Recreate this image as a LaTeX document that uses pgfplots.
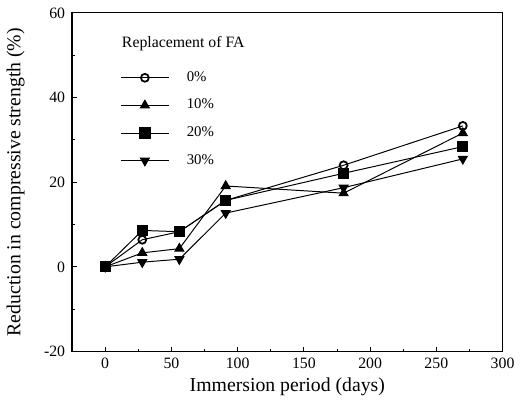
\documentclass[border=0pt]{standalone}
\usepackage{pgfplots}
\pgfplotsset{compat=1.18}
\usepackage{fontspec}
\setmainfont{Liberation Serif}
\begin{document}
\begin{tikzpicture}
\begin{axis}[
  at={(0,0)}, anchor=south west,
  scale only axis,
  width=218pt, height=171.5pt,
  xmin=-25, xmax=300, ymin=-20, ymax=60,
  xtick={0,50,...,300}, ytick={-20,0,...,60},
  minor x tick num=1, minor y tick num=1,
  tick align=inside, tick pos=left,
  major tick length=2.5pt, minor tick length=1.5pt,
  axis line style={line width=0.6pt},
  every tick/.style={black, line width=0.5pt},
  /pgf/number format/assume math mode=true,
  ticklabel style={font=\fontsize{8}{9}\selectfont},
  xlabel={Immersion period (days)},
  ylabel={Reduction in compressive strength (\%)},
  label style={font=\fontsize{10}{12}\selectfont},
  xlabel style={at={(axis description cs:0.5,-0.105)}, anchor=center},
  ylabel style={at={(axis description cs:-0.131,0.5)}, anchor=center},
  legend cell align=left,
  legend style={draw=none, fill=none, at={(axis description cs:0.112,0.84)}, anchor=north west,
    inner sep=0pt, font=\fontsize{7.5}{9}\selectfont, row sep=3.5pt, column sep=7pt},
  legend image code/.code={\draw[mark repeat=2,mark phase=2] plot coordinates {(0pt,0pt)(12pt,0pt)(24pt,0pt)};},
  every axis plot/.append style={black, line width=0.5pt},
]
\addplot[mark=o, mark size=2pt, mark options={fill=white, line width=0.9pt}] coordinates {
 (0,0) (28,6.4) (56,8.3) (91,15.7) (180,24.0) (270,33.3)};
\addlegendentry{0\%}
\addplot[mark=triangle*, mark size=2.6pt] coordinates {
 (0,0) (28,3.3) (56,4.3) (91,19.1) (180,17.4) (270,31.6)};
\addlegendentry{10\%}
\addplot[mark=square*, mark size=2.6pt] coordinates {
 (0,0) (28,8.6) (56,8.3) (91,15.7) (180,22.1) (270,28.4)};
\addlegendentry{20\%}
\addplot[mark=triangle*, mark size=2.6pt, mark options={rotate=180}] coordinates {
 (0,0) (28,1.1) (56,1.8) (91,12.7) (180,18.7) (270,25.5)};
\addlegendentry{30\%}
\node[anchor=west, font=\fontsize{8}{9}\selectfont, inner sep=0pt] at (rel axis cs:0.115,0.91) {Replacement of FA};
\end{axis}
\useasboundingbox (-36.5pt,-24.5pt) rectangle (224pt,178pt);
\end{tikzpicture}
\end{document}
